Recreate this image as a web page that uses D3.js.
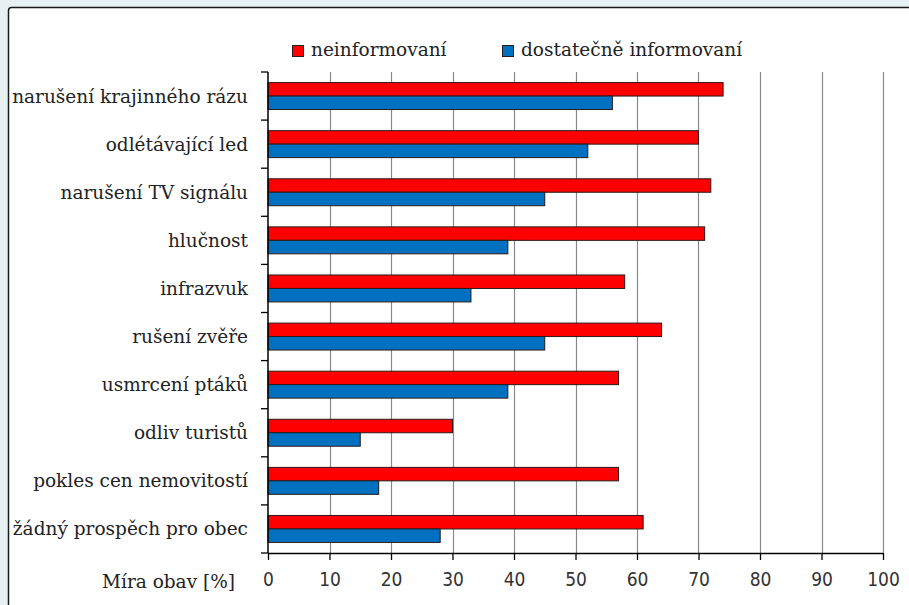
<!DOCTYPE html>
<html>
<head>
<meta charset="utf-8">
<script src="https://cdn.jsdelivr.net/npm/d3@7"></script>
<style>
  html, body { margin: 0; padding: 0; background: #e7f1f4; }
  svg { display: block; }
</style>
</head>
<body>
<svg id="chart" width="909" height="605"></svg>
<script>
const categories = [
  "narušení krajinného rázu",
  "odlétávající led",
  "narušení TV signálu",
  "hlučnost",
  "infrazvuk",
  "rušení zvěře",
  "usmrcení ptáků",
  "odliv turistů",
  "pokles cen nemovitostí",
  "žádný prospěch pro obec"
];
const seriesNames = ["neinformovaní", "dostatečně informovaní"];
const neinformovani = [74, 70, 72, 71, 58, 64, 57, 30, 57, 61];
const informovani   = [56, 52, 45, 39, 33, 45, 39, 15, 18, 28];
const xTicks = [0, 10, 20, 30, 40, 50, 60, 70, 80, 90, 100];
const axisTitle = "Míra obav [%]";
const colors = ["#ff0000", "#0070c0"];

const svg = d3.select("#chart");
const serif = "'DejaVu Serif', 'Liberation Serif', serif";
const sans = "'DejaVu Sans Condensed', 'DejaVu Sans', sans-serif";

// frame
svg.append("rect").attr("x", 0).attr("y", 0).attr("width", 909).attr("height", 605).attr("fill", "#e7f1f4");
svg.append("rect").attr("x", 8.5).attr("y", 7.5).attr("width", 1000).attr("height", 1000)
  .attr("rx", 3).attr("fill", "#ffffff").attr("stroke", "#1a1a1a").attr("stroke-width", 1.5);

const x = d3.scaleLinear().domain([0, 100]).range([268, 883]);
const y = d3.scaleBand().domain(categories).range([72, 553]).paddingInner(0.44).paddingOuter(0.22);
const yOuter = d3.scaleBand().domain(categories).range([72, 553]).padding(0);
const sub = d3.scaleBand().domain(seriesNames).range([0, y.bandwidth()]);

// gridlines
svg.append("g").selectAll("line").data(xTicks.filter(d => d > 0)).join("line")
  .attr("x1", d => Math.round(x(d)) + 0.5).attr("x2", d => Math.round(x(d)) + 0.5)
  .attr("y1", 72).attr("y2", 553)
  .attr("stroke", "#8a8a8a").attr("stroke-width", 1.2);

// bars
const data = categories.map((c, i) => ({ c, vals: [neinformovani[i], informovani[i]] }));
const groups = svg.append("g").selectAll("g").data(data).join("g")
  .attr("transform", d => `translate(0,${y(d.c)})`);
groups.selectAll("rect").data(d => d.vals.map((v, j) => ({ v, s: seriesNames[j], j }))).join("rect")
  .attr("x", x(0))
  .attr("y", d => sub(d.s))
  .attr("width", d => x(d.v) - x(0))
  .attr("height", sub.bandwidth())
  .attr("fill", d => colors[d.j])
  .attr("stroke", "#2a1a1a").attr("stroke-width", 1);

// bottom axis
const xAxis = d3.axisBottom(x).tickValues(xTicks).tickSize(7).tickPadding(13).tickFormat(d3.format("d"));
const gx = svg.append("g").attr("transform", "translate(0,553)").call(xAxis);
gx.select(".domain").attr("stroke", "#000").attr("stroke-width", 1.5).attr("d", `M${x(0)},0.5H${x(100)}`);
gx.selectAll(".tick line").attr("stroke", "#000").attr("stroke-width", 1.3);
gx.selectAll(".tick text").attr("font-family", sans).attr("font-size", 19).attr("fill", "#333");

// left axis with boundary ticks
const boundaries = categories.map(c => yOuter(c)).concat([553]);
svg.append("line").attr("x1", 268).attr("x2", 268).attr("y1", 72).attr("y2", 553)
  .attr("stroke", "#000").attr("stroke-width", 1.5);
svg.append("g").selectAll("line").data(boundaries).join("line")
  .attr("x1", 261).attr("x2", 268).attr("y1", d => d).attr("y2", d => d)
  .attr("stroke", "#000").attr("stroke-width", 1.3);

// category labels
svg.append("g").selectAll("text").data(categories).join("text")
  .attr("x", 248).attr("y", d => yOuter(d) + yOuter.bandwidth() / 2)
  .attr("dy", "0.35em").attr("text-anchor", "end")
  .attr("font-family", serif).attr("font-size", 18.5).attr("fill", "#222")
  .text(d => d);

// axis title
svg.append("text").attr("x", 235).attr("y", 588).attr("text-anchor", "end")
  .attr("font-family", serif).attr("font-size", 18.5).attr("fill", "#222").text(axisTitle);

// legend
const legendX = [292, 502];
const lg = svg.append("g").selectAll("g").data(seriesNames).join("g")
  .attr("transform", (d, i) => `translate(${legendX[i]},45)`);
lg.append("rect").attr("x", 0.5).attr("y", 0.5).attr("width", 11).attr("height", 11)
  .attr("fill", (d, i) => colors[i]).attr("stroke", "#2a1a1a").attr("stroke-width", 1);
lg.append("text").attr("x", 19).attr("y", 11)
  .attr("font-family", serif).attr("font-size", 18.5).attr("fill", "#222").text(d => d);
</script>
</body>
</html>
